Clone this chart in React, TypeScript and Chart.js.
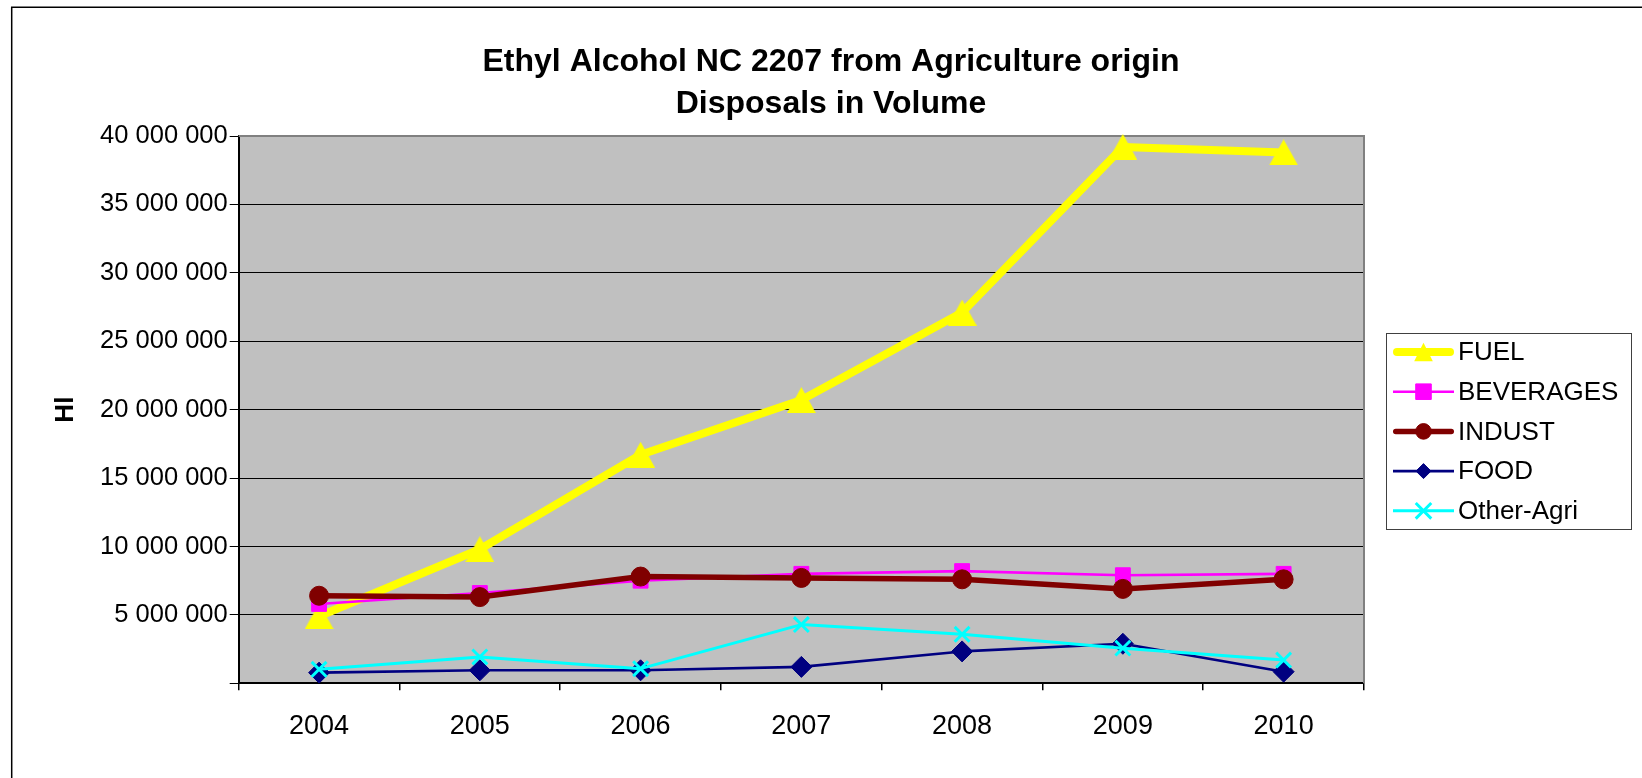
import React, { useEffect, useRef } from 'react';
import { Chart, registerables } from 'chart.js';

Chart.register(...registerables);

// ---- data ----
const categories = ['2004', '2005', '2006', '2007', '2008', '2009', '2010'];
const fuel = [4900000, 9800000, 16700000, 20700000, 27100000, 39200000, 38800000];
const beverages = [5800000, 6600000, 7500000, 8000000, 8200000, 7900000, 8000000];
const indust = [6400000, 6300000, 7800000, 7700000, 7600000, 6900000, 7600000];
const food = [780000, 950000, 950000, 1200000, 2330000, 2890000, 850000];
const otherAgri = [1020000, 1930000, 1070000, 4290000, 3580000, 2570000, 1700000];
const seriesNames = ['FUEL', 'BEVERAGES', 'INDUST', 'FOOD', 'Other-Agri'];
const titleLines = ['Ethyl Alcohol NC 2207 from Agriculture origin', 'Disposals in Volume'];
const yAxisTitle = 'Hl';
const yMin = 0;
const yMax = 40000000;
const yStep = 5000000;

const FONT = "'Liberation Sans', Arial, Helvetica, sans-serif";

const formatTick = (v: number) =>
  v === 0 ? '' : String(Math.round(v)).replace(/\B(?=(\d{3})+(?!\d))/g, ' ');

// Excel-like triangle marker: filling its box, centred on the point
function makeTriangle(w: number, h: number, color: string) {
  const c = document.createElement('canvas');
  c.width = w;
  c.height = h;
  const g = c.getContext('2d')!;
  g.fillStyle = color;
  g.beginPath();
  g.moveTo(w / 2, 0);
  g.lineTo(w, h);
  g.lineTo(0, h);
  g.closePath();
  g.fill();
  return c;
}

function drawMarker(ctx: CanvasRenderingContext2D, style: string, x: number, y: number, r: number, fill: string, stroke: string, bw: number) {
  ctx.save();
  ctx.fillStyle = fill;
  ctx.strokeStyle = stroke;
  ctx.lineWidth = bw;
  ctx.beginPath();
  if (style === 'triangle') {
    ctx.moveTo(x, y - r);
    ctx.lineTo(x + r, y + r);
    ctx.lineTo(x - r, y + r);
    ctx.closePath();
    ctx.fill();
  } else if (style === 'rect') {
    const s = Math.SQRT1_2 * r;
    ctx.rect(x - s, y - s, 2 * s, 2 * s);
    ctx.fill();
    ctx.stroke();
  } else if (style === 'circle') {
    ctx.arc(x, y, r, 0, Math.PI * 2);
    ctx.fill();
    ctx.stroke();
  } else if (style === 'rectRot') {
    ctx.moveTo(x, y - r);
    ctx.lineTo(x + r, y);
    ctx.lineTo(x, y + r);
    ctx.lineTo(x - r, y);
    ctx.closePath();
    ctx.fill();
    ctx.stroke();
  } else if (style === 'crossRot') {
    const s = Math.SQRT1_2 * r;
    ctx.moveTo(x - s, y - s);
    ctx.lineTo(x + s, y + s);
    ctx.moveTo(x + s, y - s);
    ctx.lineTo(x - s, y + s);
    ctx.stroke();
  }
  ctx.restore();
}

const framePlugin = {
  id: 'frame',
  beforeDraw(chart: any) {
    const { ctx, chartArea, width, height } = chart;
    ctx.save();
    ctx.fillStyle = '#ffffff';
    ctx.fillRect(0, 0, width, height);
    ctx.strokeStyle = '#000000';
    ctx.lineWidth = 1.5;
    ctx.beginPath();
    ctx.moveTo(11.7, height + 5);
    ctx.lineTo(11.7, 7.2);
    ctx.lineTo(width + 5, 7.2);
    ctx.stroke();
    ctx.fillStyle = '#C0C0C0';
    ctx.fillRect(chartArea.left, chartArea.top, chartArea.right - chartArea.left, chartArea.bottom - chartArea.top);
    ctx.restore();
  },
  beforeDatasetsDraw(chart: any) {
    const { ctx, chartArea } = chart;
    ctx.save();
    ctx.strokeStyle = '#808080';
    ctx.lineWidth = 2;
    ctx.beginPath();
    ctx.moveTo(chartArea.left, chartArea.top);
    ctx.lineTo(chartArea.right, chartArea.top);
    ctx.lineTo(chartArea.right, chartArea.bottom);
    ctx.stroke();
    ctx.restore();
  },
  afterDraw(chart: any) {
    const { ctx } = chart;
    ctx.save();
    // title
    ctx.fillStyle = '#000000';
    ctx.font = `bold 32px ${FONT}`;
    ctx.textAlign = 'center';
    ctx.textBaseline = 'middle';
    ctx.fillText(titleLines[0], 831, 62);
    ctx.fillText(titleLines[1], 831, 104);

    // legend
    const lx = 1386, ly = 333, lw = 245, lh = 196;
    ctx.fillStyle = '#ffffff';
    ctx.fillRect(lx, ly, lw, lh);
    ctx.strokeStyle = '#404040';
    ctx.lineWidth = 1;
    ctx.strokeRect(lx + 0.5, ly + 0.5, lw, lh);
    const legendMarker = [9.3, 11, 7.8, 7.5, 11];
    chart.data.datasets.forEach((ds: any, i: number) => {
      const y = 352 + i * 39.7;
      const thick = ds.borderWidth > 4;
      ctx.save();
      ctx.strokeStyle = ds.borderColor;
      ctx.lineWidth = ds.borderWidth;
      ctx.lineCap = thick ? 'round' : 'butt';
      ctx.beginPath();
      ctx.moveTo(1393 + (thick ? ds.borderWidth / 2 : 0), y);
      ctx.lineTo(1454 - (thick ? ds.borderWidth / 2 : 0), y);
      ctx.stroke();
      ctx.restore();
      const style = typeof ds.pointStyle === 'string' ? ds.pointStyle : 'triangle';
      drawMarker(ctx, style, 1423.5, y, legendMarker[i], ds.pointBackgroundColor, ds.pointBorderColor, ds.pointBorderWidth);
      ctx.fillStyle = '#000000';
      ctx.font = `26px ${FONT}`;
      ctx.textAlign = 'left';
      ctx.textBaseline = 'middle';
      ctx.fillText(ds.label, 1458, y + 1);
    });
    ctx.restore();
  },
};

export default function App() {
  const canvasRef = useRef<HTMLCanvasElement | null>(null);

  useEffect(() => {
    document.body.style.margin = '0';
    document.body.style.overflow = 'hidden';
    const canvas = canvasRef.current;
    if (!canvas) return;

    const mk = (label: string, data: number[], color: string, bw: number, pointStyle: any, r: number, order: number, pbw = 1) => ({
      label,
      data,
      borderColor: color,
      backgroundColor: color,
      borderWidth: bw,
      pointStyle,
      pointRadius: r,
      pointBackgroundColor: color,
      pointBorderColor: color,
      pointBorderWidth: pbw,
      borderCapStyle: 'round',
      borderJoinStyle: 'round',
      tension: 0,
      fill: false,
      clip: false,
      order,
    });

    const tri = makeTriangle(29, 26, '#FFFF00');

    const chart = new Chart(canvas, {
      type: 'line',
      data: {
        labels: categories,
        datasets: [
          mk(seriesNames[0], fuel, '#FFFF00', 8, tri, 15, 5),
          mk(seriesNames[1], beverages, '#FF00FF', 2.6, 'rect', 10.5, 4),
          mk(seriesNames[2], indust, '#800000', 5.5, 'circle', 9.5, 3),
          mk(seriesNames[3], food, '#000080', 2.6, 'rectRot', 10.5, 2),
          mk(seriesNames[4], otherAgri, '#00FFFF', 3, 'crossRot', 10.5, 1, 3),
        ] as any,
      },
      options: {
        responsive: false,
        animation: false,
        devicePixelRatio: 1,
        events: [],
        layout: { padding: { left: 0, top: 136, right: 1642 - 1364, bottom: 778 - 683.3 - 60 } },
        plugins: {
          legend: { display: false },
          title: { display: false },
          tooltip: { enabled: false },
        },
        scales: {
          x: {
            type: 'category',
            offset: true,
            grid: {
              offset: true,
              drawOnChartArea: false,
              drawTicks: true,
              tickLength: 7,
              tickColor: '#000000',
              color: '#000000',
              lineWidth: 1.5,
            },
            border: { display: true, color: '#000000', width: 2 },
            ticks: {
              color: '#000000',
              font: { family: FONT, size: 27 },
              padding: 20,
              maxRotation: 0,
              autoSkip: false,
            },
            afterFit: (scale: any) => {
              scale.height = 60;
            },
          },
          y: {
            min: yMin,
            max: yMax,
            grid: {
              color: '#000000',
              lineWidth: 1,
              drawTicks: true,
              tickLength: 9,
              tickColor: '#000000',
            },
            border: { display: true, color: '#000000', width: 2 },
            ticks: {
              stepSize: yStep,
              color: '#000000',
              font: { family: FONT, size: 25.5 },
              padding: 2,
              callback: (v: any) => formatTick(Number(v)),
            },
            title: {
              display: true,
              text: yAxisTitle,
              color: '#000000',
              font: { family: FONT, size: 26, weight: 'bold' },
              padding: { top: 50, bottom: 0 },
            },
            afterFit: (scale: any) => {
              scale.width = 238.7;
            },
          },
        },
      } as any,
      plugins: [framePlugin],
    });

    return () => chart.destroy();
  }, []);

  return (
    <div style={{ width: 1642, height: 778, overflow: 'hidden' }}>
      <canvas ref={canvasRef} width={1642} height={778} style={{ display: 'block', width: 1642, height: 778 }} />
    </div>
  );
}
